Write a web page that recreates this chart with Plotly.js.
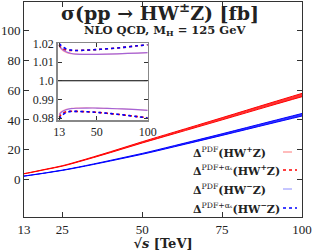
<!DOCTYPE html>
<html><head><meta charset="utf-8">
<script src="https://cdn.plot.ly/plotly-3.0.1.min.js"></script>
<style>html,body{margin:0;padding:0;background:#fff}#plot{width:313px;height:251px}</style>
</head><body><div id="plot"></div>
<script>
// Data
var sqrtS = [13, 15, 20, 25, 30, 40, 50, 60, 75, 90, 100];
var sigmaWpZ = [4.0, 4.8, 7.0, 9.2, 12.1, 18.4, 25.0, 31.3, 40.8, 50.4, 56.7];
var sigmaWmZ = [2.4, 3.0, 4.6, 6.3, 8.3, 12.7, 17.3, 22.4, 30.2, 38.2, 43.5];
// ratios (inset)
var upPdfWp   = [1.0188, 1.0170, 1.0152, 1.0145, 1.0142, 1.0141, 1.0141, 1.0142, 1.0145, 1.0148, 1.0150];
var loPdfWp   = [0.9821, 0.9834, 0.9847, 0.9852, 0.9854, 0.9855, 0.9854, 0.9852, 0.9849, 0.9845, 0.9842];
var upPdfAsWp = [1.0192, 1.0176, 1.0164, 1.0162, 1.0162, 1.0164, 1.0167, 1.0171, 1.0178, 1.0187, 1.0192];
var loPdfAsWp = [0.9805, 0.9820, 0.9834, 0.9837, 0.9836, 0.9834, 0.9831, 0.9826, 0.9818, 0.9808, 0.9802];
var upPdfWm   = [1.0190, 1.0174, 1.0155, 1.0146, 1.0142, 1.0141, 1.0141, 1.0142, 1.0145, 1.0148, 1.0150];
var loPdfWm   = [0.9817, 0.9830, 0.9845, 0.9851, 0.9853, 0.9854, 0.9854, 0.9852, 0.9849, 0.9845, 0.9842];
var upPdfAsWm = [1.0199, 1.0188, 1.0170, 1.0164, 1.0162, 1.0164, 1.0167, 1.0171, 1.0178, 1.0187, 1.0193];
var loPdfAsWm = [0.9794, 0.9810, 0.9830, 0.9836, 0.9836, 0.9834, 0.9831, 0.9826, 0.9818, 0.9808, 0.9801];
var xTicks = [13, 25, 50, 75, 100];
var yTicks = [0, 20, 40, 60, 80, 100];
var inXTicks = [13, 50, 100];
var inYTicks = [0.98, 0.99, 1.0, 1.01, 1.02];
var inYText = ['0.98', '0.99', '1.0', '1.01', '1.02'];
var legendLabels = [
  '<b>Δ</b><sup>PDF</sup><b>(HW<sup>+</sup>Z)</b>',
  '<b>Δ</b><sup>PDF+αₛ</sup><b>(HW<sup>+</sup>Z)</b>',
  '<b>Δ</b><sup>PDF</sup><b>(HW<sup>−</sup>Z)</b>',
  '<b>Δ</b><sup>PDF+αₛ</sup><b>(HW<sup>−</sup>Z)</b>'
];

var RED = 'rgb(255,0,0)', BLUE = 'rgb(0,0,255)';
var LRED = 'rgba(255,60,90,0.55)', LBLUE = 'rgba(90,60,255,0.55)';
var styles = [
  {color: 'rgb(255,120,120)', dash: 'dash', width: 1, inset: LRED, insetDash: 'solid'},
  {color: RED, dash: 'dot', width: 1.6, inset: RED, insetDash: 'dot'},
  {color: 'rgb(140,140,255)', dash: 'dash', width: 1, inset: LBLUE, insetDash: 'solid'},
  {color: BLUE, dash: 'dot', width: 1.6, inset: BLUE, insetDash: 'dot'}
];
function mul(a, r) { return a.map(function (v, i) { return v * r[i]; }); }

var traces = [];
var sets = [
  [sigmaWpZ, upPdfWp, loPdfWp, 0],
  [sigmaWpZ, upPdfAsWp, loPdfAsWp, 1],
  [sigmaWmZ, upPdfWm, loPdfWm, 2],
  [sigmaWmZ, upPdfAsWm, loPdfAsWm, 3]
];
// main bands (PDF+alpha_s envelope filled)
[[sigmaWpZ, upPdfAsWp, loPdfAsWp, RED, 'rgba(255,0,0,0.8)'], [sigmaWmZ, upPdfAsWm, loPdfAsWm, BLUE, 'rgba(0,0,255,0.8)']].forEach(function (st) {
  traces.push({x: sqrtS, y: mul(st[0], st[1]), mode: 'lines', line: {color: st[3], width: 1, shape: 'spline'}, showlegend: false, hoverinfo: 'skip'});
  traces.push({x: sqrtS, y: mul(st[0], st[2]), mode: 'lines', fill: 'tonexty', fillcolor: st[4], line: {color: st[3], width: 1, shape: 'spline'}, showlegend: false, hoverinfo: 'skip'});
});
// inset
traces.push({x: [11.5, 100], y: [1, 1], xaxis: 'x2', yaxis: 'y2', mode: 'lines', line: {color: '#000', width: 1.2}, showlegend: false, hoverinfo: 'skip'});
sets.forEach(function (st) {
  var sty = styles[st[3]];
  [st[1], st[2]].forEach(function (r) {
    traces.push({x: sqrtS, y: r, xaxis: 'x2', yaxis: 'y2', mode: 'lines', line: {color: sty.inset, dash: sty.insetDash, width: sty.insetDash === 'dot' ? 1.6 : 1.2, shape: 'spline'}, showlegend: false, hoverinfo: 'skip'});
  });
});

var FONT = 'Liberation Serif, serif';
var WFONT = 'DejaVu Serif, serif';
var annotations = [
  {text: '<b>NLO QCD, M<sub>H</sub> = 125 GeV</b>', xref: 'paper', yref: 'paper', x: (165 - 24) / 278, y: 1 - (30 - 2) / 215, xanchor: 'center', yanchor: 'middle', showarrow: false, font: {family: WFONT, size: 11.5, color: '#222'}}
];
var shapes = [];
var legY = [152, 170, 189, 208];
legendLabels.forEach(function (t, i) {
  var yp = 1 - (legY[i] - 2) / 215;
  annotations.push({text: t, xref: 'paper', yref: 'paper', x: (191 - 24) / 278, y: yp, xanchor: 'left', yanchor: 'middle', showarrow: false, font: {family: WFONT, size: 11, color: '#222'}});
  shapes.push({type: 'line', xref: 'paper', yref: 'paper', x0: (283 - 24) / 278, x1: (297 - 24) / 278, y0: yp, y1: yp, line: {color: styles[i].color, dash: styles[i].dash, width: styles[i].width}});
});

var axCommon = {showline: true, mirror: 'ticks', linecolor: '#333', linewidth: 1, ticks: 'inside', ticklen: 5, tickcolor: '#333', showgrid: false, zeroline: false, tickfont: {family: FONT, size: 13, color: '#222'}};
var layout = {
  width: 313, height: 251,
  margin: {l: 24, r: 11, t: 2, b: 34},
  paper_bgcolor: '#fff', plot_bgcolor: '#fff',
  showlegend: false,
  title: {text: '<b>σ(pp → HW<sup>±</sup>Z) [fb]</b>', x: 160 / 313, y: 1 - 13 / 251, xanchor: 'center', yanchor: 'middle', font: {family: WFONT, size: 19, color: '#222'}},
  xaxis: Object.assign({}, axCommon, {range: [13, 100], tickvals: xTicks, title: {text: '<b>√<i>s</i> [TeV]</b>', font: {family: WFONT, size: 13, color: '#222'}, standoff: 0}}),
  yaxis: Object.assign({}, axCommon, {range: [-25, 119], tickvals: yTicks}),
  xaxis2: Object.assign({}, axCommon, {domain: [(57.7 - 24) / 278, (147.7 - 24) / 278], anchor: 'y2', range: [11.5, 100], tickvals: inXTicks, linecolor: '#888', linewidth: 1.5, ticklen: 4, tickfont: {family: FONT, size: 12, color: '#222'}}),
  yaxis2: Object.assign({}, axCommon, {domain: [1 - (120 - 2) / 215, 1 - (43 - 2) / 215], anchor: 'x2', range: [0.979, 1.0202], tickvals: inYTicks, ticktext: inYText, linecolor: '#888', linewidth: 1.5, ticklen: 4, tickfont: {family: FONT, size: 12, color: '#222'}}),
  annotations: annotations,
  shapes: shapes
};
Plotly.newPlot('plot', traces, layout, {staticPlot: true, displayModeBar: false});
</script></body></html>
